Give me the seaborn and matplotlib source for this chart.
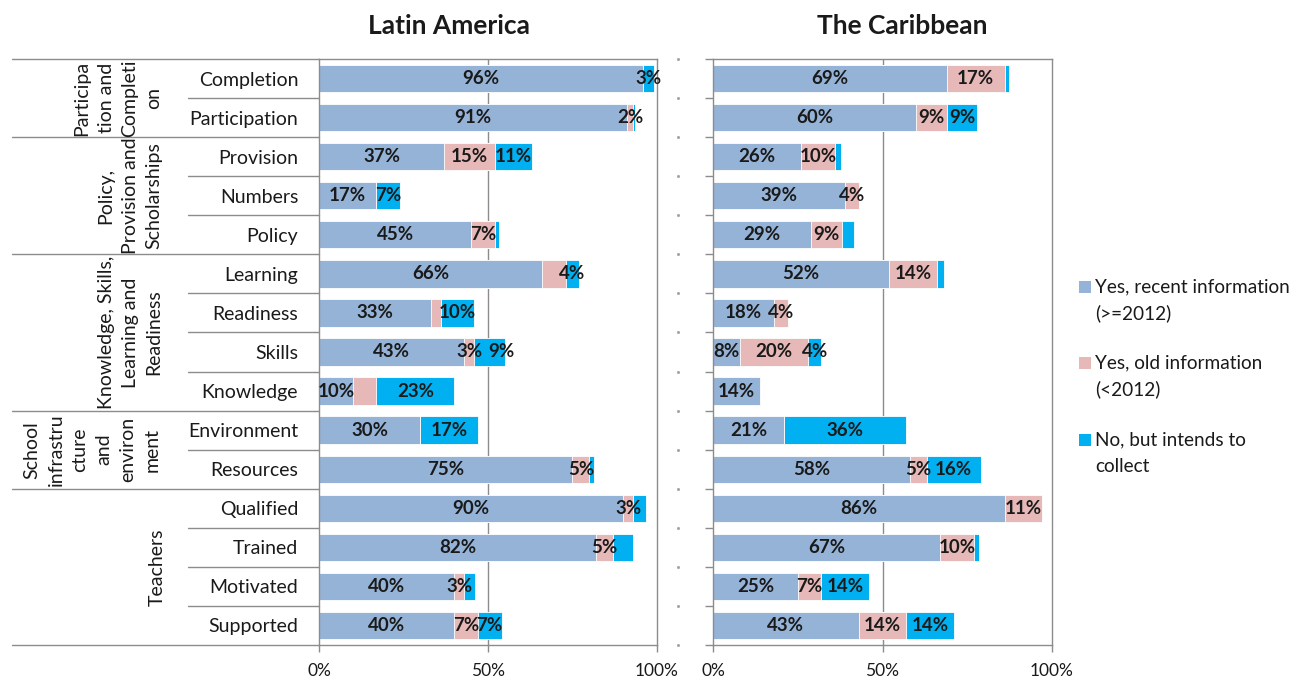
import matplotlib
matplotlib.use("Agg")
import matplotlib.pyplot as plt
import matplotlib.transforms as mtrans
from matplotlib.patches import Rectangle
import seaborn as sns
import pandas as pd

# ---------------- data ----------------
categories = ["Completion", "Participation", "Provision", "Numbers", "Policy",
              "Learning", "Readiness", "Skills", "Knowledge", "Environment",
              "Resources", "Qualified", "Trained", "Motivated", "Supported"]

series_names = ["Yes, recent information\n(>=2012)",
                "Yes, old information\n(<2012)",
                "No, but intends to\ncollect"]
series_colors = ["#95B3D7", "#E6B9B8", "#00B0F0"]

la_recent = [96, 91, 37, 17, 45, 66, 33, 43, 10, 30, 75, 90, 82, 40, 40]
la_old = [0, 2, 15, 0, 7, 7, 3, 3, 7, 0, 5, 3, 5, 3, 7]
la_no = [3, 0.4, 11, 7, 1.4, 4, 10, 9, 23, 17, 1.3, 3.6, 6, 3.2, 7]
la_recent_lbl = ["96%", "91%", "37%", "17%", "45%", "66%", "33%", "43%", "10%", "30%",
                 "75%", "90%", "82%", "40%", "40%"]
la_old_lbl = ["", "2%", "15%", "", "7%", "", "", "3%", "", "", "5%", "3%", "5%", "3%", "7%"]
la_no_lbl = ["3%", "", "11%", "7%", "", "4%", "10%", "9%", "23%", "17%", "", "", "", "", "7%"]

ca_recent = [69, 60, 26, 39, 29, 52, 18, 8, 14, 21, 58, 86, 67, 25, 43]
ca_old = [17, 9, 10, 4, 9, 14, 4, 20, 0, 0, 5, 11, 10, 7, 14]
ca_no = [1.4, 9, 1.8, 0, 3.6, 2.2, 0, 4, 0, 36, 16, 0, 1.4, 14, 14]
ca_recent_lbl = ["69%", "60%", "26%", "39%", "29%", "52%", "18%", "8%", "14%", "21%",
                 "58%", "86%", "67%", "25%", "43%"]
ca_old_lbl = ["17%", "9%", "10%", "4%", "9%", "14%", "4%", "20%", "", "", "5%", "11%",
              "10%", "7%", "14%"]
ca_no_lbl = ["", "9%", "", "", "", "", "", "4%", "", "36%", "16%", "", "", "14%", "14%"]

groups = [
    ("Participa\ntion and\nCompleti\non", 0.5, 118),
    ("Policy,\nProvision and\nScholarships", 3.0, 130),
    ("Knowledge, Skills,\nLearning and\nReadiness", 6.5, 130),
    ("School\ninfrastru\ncture\nand\nenviron\nment", 9.5, 92),
    ("Teachers", 12.5, 157),
]
group_bounds = [-0.5, 1.5, 4.5, 8.5, 10.5, 14.5]

panel_titles = ["Latin America", "The Caribbean"]
xticks = [0, 50, 100]
xtick_labels = ["0%", "50%", "100%"]

# label nudges (style only, in % units): (row, segment) -> dx
la_nudge = {(7, 2): 3.5}
ca_nudge = {}

# ---------------- style ----------------
sns.set_style("white")
plt.rcParams["font.family"] = ["Lato", "DejaVu Sans"]
TXT = "#1a1a1a"
GRID = "#8c8c8c"

W, H = 1294, 679
fig = plt.figure(figsize=(W / 100, H / 100), dpi=100)
ax1 = fig.add_axes([319 / W, 1 - 645 / H, 338 / W, 586 / H])
ax2 = fig.add_axes([713 / W, 1 - 645 / H, 339 / W, 586 / H])


def draw_panel(ax, rec, old, no, lrec, lold, lno, nudge):
    df = pd.DataFrame({"cat": categories, "rec": rec, "old": old, "no": no})
    df["c1"] = df["rec"]
    df["c2"] = df["rec"] + df["old"]
    df["c3"] = df["c2"] + df["no"]
    for col, color in zip(["c3", "c2", "c1"], series_colors[::-1]):
        sns.barplot(data=df, x=col, y="cat", orient="h", color=color, saturation=1,
                    width=0.7, errorbar=None, ax=ax, edgecolor="white", linewidth=0.6,
                    zorder=2)
    for i in range(len(categories)):
        starts = [0, df["c1"][i], df["c2"][i]]
        vals = [df["rec"][i], df["old"][i], df["no"][i]]
        labs = [lrec[i], lold[i], lno[i]]
        for k, (s, v, lb) in enumerate(zip(starts, vals, labs)):
            if lb:
                ax.text(s + v / 2 + nudge.get((i, k), 0), i, lb, ha="center",
                        va="center", fontsize=13.5, fontweight="bold", color=TXT,
                        zorder=5)
    ax.set_xlim(0, 100)
    ax.set_ylim(14.5, -0.5)
    ax.axvline(50, color=GRID, lw=1, zorder=0)
    ax.set_xticks(xticks)
    ax.set_xticklabels(xtick_labels, fontsize=12.5, color=TXT)
    ax.tick_params(axis="x", length=5, width=1, color=GRID, direction="out", pad=8,
                   bottom=True)
    ax.set_xlabel("")
    ax.set_ylabel("")
    for sp in ax.spines.values():
        sp.set_visible(True)
        sp.set_color(GRID)
        sp.set_linewidth(1)


draw_panel(ax1, la_recent, la_old, la_no, la_recent_lbl, la_old_lbl, la_no_lbl, la_nudge)
draw_panel(ax2, ca_recent, ca_old, ca_no, ca_recent_lbl, ca_old_lbl, ca_no_lbl, ca_nudge)

# left panel category labels
ax1.tick_params(axis="y", length=0, pad=15)
ax1.set_yticks(range(len(categories)))
ax1.set_yticklabels(categories, fontsize=14, color=TXT)

# right panel: no labels, ticks at boundaries
ax2.set_yticks(range(len(categories)))
ax2.set_yticklabels([])
ax2.tick_params(axis="y", length=0)
ax2.set_yticks([b - 0.5 for b in range(len(categories) + 1)], minor=True)
ax2.tick_params(axis="y", which="minor", length=6, width=1, color=GRID, direction="out",
                left=True)

# category table lines (left)
tr1 = mtrans.blended_transform_factory(ax1.transAxes, ax1.transData)
x_far = (12 - 319) / 338
x_sub = (188 - 319) / 338
for b in group_bounds:
    ax1.plot([x_far, 0], [b, b], transform=tr1, clip_on=False, color=GRID, lw=1)
for k in range(len(categories) - 1):
    yb = k + 0.5
    if yb not in group_bounds:
        ax1.plot([x_sub, 0], [yb, yb], transform=tr1, clip_on=False, color=GRID, lw=1)
for txt, yc, xc in groups:
    ax1.text((xc - 319) / 338, yc, txt, transform=tr1, rotation=90, ha="center",
             va="center", multialignment="center", fontsize=14, color=TXT,
             linespacing=1.5, clip_on=False)

# faint dots between panels
tr2 = mtrans.blended_transform_factory(ax2.transAxes, ax2.transData)
ax2.plot([(678 - 713) / 339] * (len(categories) + 1),
         [b - 0.5 for b in range(len(categories) + 1)], transform=tr2, clip_on=False,
         ls="none", marker="s", ms=1, color="#a0a0a0")

# titles
fig.text(449 / W, 1 - 26 / H, panel_titles[0], ha="center", va="center", fontsize=19,
         fontweight="bold", color=TXT)
fig.text(902 / W, 1 - 26 / H, panel_titles[1], ha="center", va="center", fontsize=19,
         fontweight="bold", color=TXT)

# legend
ys = [287, 363, 440]
for name, color, y in zip(series_names, series_colors, ys):
    fig.patches.append(Rectangle((1079 / W, 1 - (y + 6) / H), 12 / W, 12 / H,
                                 transform=fig.transFigure, facecolor=color,
                                 edgecolor="none"))
    for j, line in enumerate(name.split("\n")):
        fig.text(1095 / W, 1 - (y + 26 * j) / H, line, ha="left", va="center",
                 fontsize=13.7, color=TXT)

fig.savefig("out.png", dpi=100)
